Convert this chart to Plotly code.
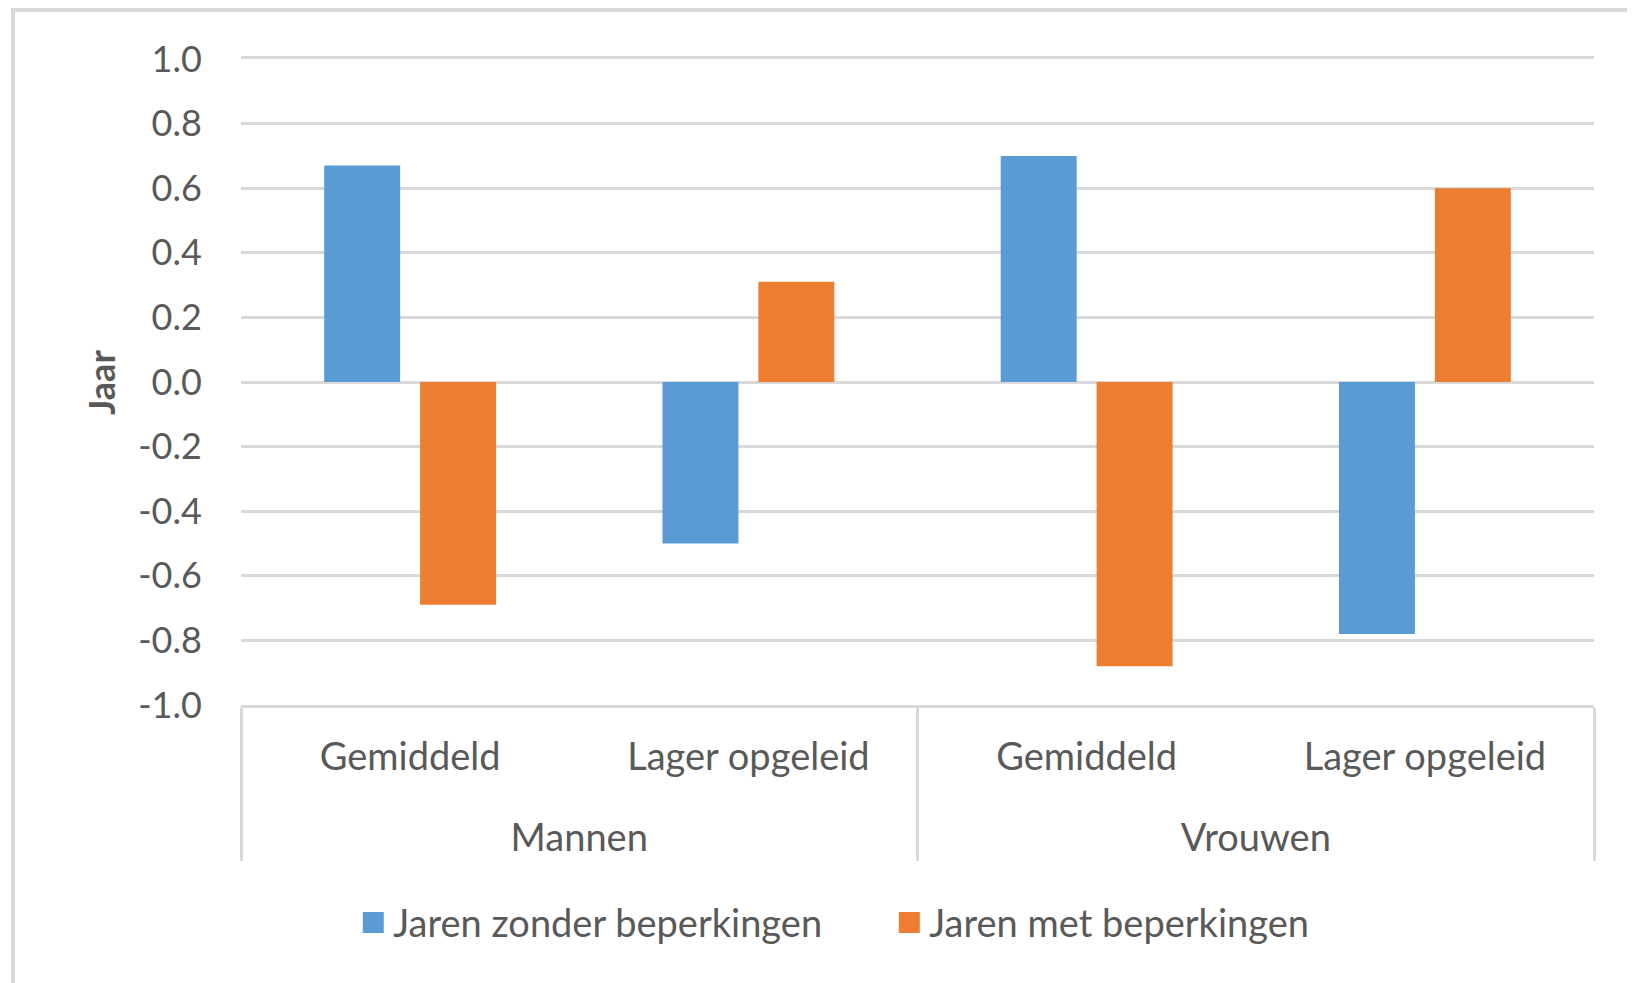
import plotly.graph_objects as go

# data
groups = ["Mannen", "Mannen", "Vrouwen", "Vrouwen"]
subgroups = ["Gemiddeld", "Lager opgeleid", "Gemiddeld", "Lager opgeleid"]
zonder_beperkingen = [0.67, -0.50, 0.70, -0.78]
met_beperkingen = [-0.69, 0.31, -0.88, 0.60]
series_names = ["Jaren zonder beperkingen", "Jaren met beperkingen"]
y_ticks = [-1.0, -0.8, -0.6, -0.4, -0.2, 0.0, 0.2, 0.4, 0.6, 0.8, 1.0]
y_ticktext = ["-1.0", "-0.8", "-0.6", "-0.4", "-0.2", "0.0", "0.2", "0.4", "0.6", "0.8", "1.0"]

BLUE = "#5B9BD5"
ORANGE = "#ED7D31"
GRID = "#D9D9D9"
TEXT = "#595959"
FONT = "Lato"
LABEL_SIZE = 38

# axis font is kept small so the blank lines above the group labels are short;
# the visible label text gets its real size through a span
span = "<span style='font-size:%dpx'>%s</span>"
sub_labels = [span % (LABEL_SIZE, s) for s in subgroups]
group_labels = ["<br><br>" + span % (LABEL_SIZE, g) for g in groups]

fig = go.Figure()
for name, vals, col in [(series_names[0], zonder_beperkingen, BLUE),
                        (series_names[1], met_beperkingen, ORANGE)]:
    fig.add_trace(go.Bar(
        x=[group_labels, sub_labels], y=vals, name=name,
        marker=dict(color=col, line=dict(width=0)),
        showlegend=False,
    ))
    # legend-only trace so the swatch is a larger square
    fig.add_trace(go.Scatter(
        x=[None], y=[None], mode="markers", name=name,
        marker=dict(symbol="square", size=16, color=col, line=dict(color=col, width=5)),
    ))

# page body has an 8px margin, so shift everything up/left by 8
fig.update_layout(
    width=1635, height=983,
    margin=dict(l=233, r=49, t=51, b=286),
    paper_bgcolor="white", plot_bgcolor="white",
    font=dict(family=FONT, size=LABEL_SIZE, color=TEXT),
    barmode="group", bargap=0.433, bargroupgap=0.208,
    showlegend=True,
    legend=dict(orientation="h", x=0.083, xanchor="left", y=-0.337, yanchor="middle",
                font=dict(size=LABEL_SIZE, color=TEXT), itemsizing="trace", entrywidth=491,
                traceorder="normal"),
    annotations=[dict(text="<b>Jaar</b>", textangle=-90, x=-0.1035, y=0.5,
                      xanchor="center", yanchor="middle",
                      xref="paper", yref="paper", showarrow=False,
                      font=dict(size=36, color=TEXT))],
    shapes=[dict(type="rect", xref="paper", yref="paper",
                 x0=(13 - 241) / 1353, x1=1.2, y0=-0.5, y1=(705 - 10) / 646,
                 line=dict(color=GRID, width=4), fillcolor="rgba(0,0,0,0)", layer="below")],
)

fig.update_yaxes(range=[-1, 1], tickvals=y_ticks, ticktext=y_ticktext,
                 showgrid=True, gridcolor=GRID, gridwidth=3, zeroline=False,
                 ticks="outside", ticklen=31, tickcolor="rgba(0,0,0,0)",
                 tickfont=dict(size=36, color=TEXT))
fig.update_xaxes(showgrid=False, showdividers=True, dividercolor=GRID, dividerwidth=3,
                 showline=True, mirror=True, linecolor=GRID, linewidth=3,
                 ticks="outside", ticklen=74, tickcolor="rgba(0,0,0,0)",
                 ticklabelstandoff=32,
                 tickfont=dict(size=25, color=TEXT))

fig.write_html("out.html")
